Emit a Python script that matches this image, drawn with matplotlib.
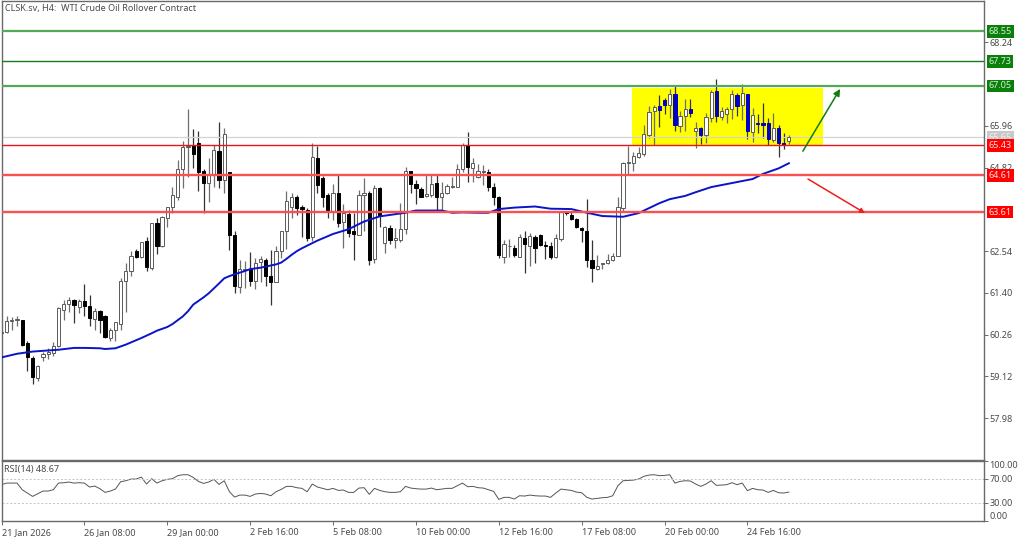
import numpy as np
import matplotlib
matplotlib.use("Agg")
import matplotlib.pyplot as plt

# === data ===
opens = [60.30, 60.33, 60.63, 60.65, 60.65, 60.03, 59.63, 59.09, 59.64, 59.73, 59.76, 59.94, 60.94, 61.10, 61.21, 61.03, 61.18,
         61.04, 60.70, 60.91, 60.78, 60.18, 60.38, 60.56, 61.74, 61.99, 62.54, 62.37, 62.82, 62.08, 63.30, 62.67, 63.44, 63.74,
         64.03, 64.78, 65.38, 65.44, 65.49, 64.74, 64.39, 64.64, 65.27, 64.49, 64.69, 62.99, 61.56, 62.03, 62.06, 61.74, 62.25,
         62.30, 61.85, 61.70, 62.54, 63.08, 63.74, 64.03, 63.74, 63.67, 62.94, 65.09, 64.53, 64.07, 63.65, 64.12, 63.33, 63.56,
         63.09, 62.99, 64.08, 64.12, 62.32, 64.27, 62.76, 63.17, 62.85, 62.85, 63.15, 64.72, 64.38, 64.24, 64.05, 64.08, 64.39,
         64.03, 64.14, 64.30, 64.30, 64.78, 65.44, 64.82, 64.56, 64.69, 64.70, 64.29, 64.03, 62.39, 62.67, 62.63, 62.39, 62.90,
         62.69, 62.93, 62.99, 62.71, 62.69, 62.37, 62.87, 63.60, 63.53, 63.41, 63.17, 63.08, 62.29, 62.06, 62.18, 62.23, 62.29,
         62.42, 63.73, 64.95, 64.96, 65.12, 65.19, 65.71, 66.36, 66.51, 66.67, 66.54, 66.83, 65.97, 66.24, 66.42, 65.83, 65.89,
         65.72, 66.17, 66.90, 66.19, 66.28, 66.42, 66.81, 66.53, 66.83, 65.79, 66.04, 66.04, 66.03, 65.58, 65.89, 65.50, 65.56]
highs = [60.39, 60.76, 60.74, 60.76, 60.67, 60.08, 59.67, 59.44, 59.80, 59.89, 60.05, 61.01, 61.21, 61.29, 61.23, 61.23, 61.64,
         61.35, 60.99, 60.94, 60.80, 60.44, 60.62, 61.80, 62.21, 62.55, 62.59, 62.80, 62.94, 63.32, 63.44, 63.49, 63.76, 64.30,
         65.03, 65.55, 66.42, 65.87, 65.82, 64.78, 65.08, 65.44, 66.06, 65.89, 64.71, 63.08, 62.30, 62.26, 62.53, 62.35, 62.42,
         62.35, 62.58, 62.67, 63.10, 64.17, 64.12, 64.08, 63.80, 63.71, 65.50, 65.41, 64.59, 64.12, 64.37, 64.62, 63.82, 63.67,
         63.59, 64.21, 64.53, 64.17, 64.35, 64.30, 63.23, 63.26, 63.17, 63.85, 64.83, 64.74, 64.49, 64.29, 64.65, 64.65, 64.62,
         64.44, 64.37, 64.56, 64.92, 65.50, 65.80, 65.09, 64.92, 64.89, 64.78, 64.39, 64.05, 62.85, 62.87, 62.71, 63.01, 63.08,
         63.05, 62.99, 63.01, 62.83, 62.80, 63.01, 63.62, 63.62, 63.62, 63.44, 63.21, 63.96, 62.85, 62.44, 62.23, 62.46, 62.49,
         64.03, 64.98, 65.41, 65.26, 65.38, 65.99, 66.50, 66.53, 66.80, 66.71, 66.96, 67.05, 66.38, 66.69, 66.69, 66.08, 65.94,
         66.31, 66.93, 67.24, 66.49, 66.49, 66.94, 66.85, 67.10, 66.83, 66.44, 66.28, 66.58, 66.17, 66.31, 65.99, 65.76, 65.70]
lows = [60.28, 60.30, 60.38, 60.50, 59.96, 59.26, 58.91, 59.00, 59.53, 59.59, 59.67, 59.92, 60.67, 60.89, 60.58, 60.85, 60.76,
        60.51, 60.38, 60.30, 60.17, 60.10, 60.10, 60.39, 60.87, 61.85, 62.35, 62.35, 62.01, 62.03, 62.47, 62.65, 63.21, 63.59,
        63.94, 64.26, 64.56, 64.80, 64.17, 63.58, 63.89, 64.30, 64.26, 64.14, 62.58, 61.39, 61.41, 61.53, 61.58, 61.50, 61.71,
        61.58, 61.08, 61.69, 62.35, 62.59, 63.44, 63.53, 62.94, 62.83, 62.82, 64.12, 63.74, 63.44, 63.38, 63.19, 62.62, 62.94,
        62.29, 62.97, 63.08, 62.17, 62.23, 63.21, 62.49, 62.73, 62.64, 62.80, 63.01, 64.14, 63.83, 64.03, 64.01, 64.03, 63.65,
        63.62, 64.10, 64.26, 64.29, 64.69, 64.44, 64.44, 64.53, 64.35, 64.17, 63.80, 62.35, 62.21, 62.39, 62.39, 62.37, 61.94,
        62.14, 62.23, 62.67, 62.32, 62.33, 62.35, 62.83, 63.53, 63.38, 63.17, 62.78, 62.12, 61.71, 62.03, 62.05, 62.19, 62.26,
        62.41, 63.62, 64.64, 64.74, 65.08, 65.15, 65.64, 65.44, 65.92, 66.29, 66.17, 65.82, 65.79, 65.81, 66.20, 65.37, 65.47,
        65.49, 66.08, 66.08, 66.12, 66.03, 66.14, 66.23, 66.12, 65.60, 65.53, 65.76, 65.62, 65.44, 65.53, 65.11, 65.32, 65.47]
closes = [60.33, 60.64, 60.67, 60.68, 59.99, 59.65, 59.10, 59.41, 59.74, 59.80, 59.96, 60.99, 61.10, 61.22, 61.06, 61.18, 61.05,
          60.73, 60.91, 60.65, 60.19, 60.38, 60.60, 61.74, 62.01, 62.40, 62.39, 62.80, 62.10, 63.30, 62.69, 63.47, 63.75, 64.07,
          64.79, 65.38, 65.41, 65.19, 64.71, 64.41, 64.64, 65.29, 64.49, 65.74, 62.99, 61.58, 62.05, 62.06, 61.74, 62.21, 62.32,
          61.85, 61.70, 62.55, 63.08, 63.91, 64.03, 63.71, 63.69, 62.91, 65.10, 64.35, 64.03, 63.67, 64.12, 63.32, 63.58, 63.05,
          63.02, 64.07, 64.14, 62.30, 64.27, 63.49, 63.19, 62.85, 62.89, 63.15, 64.72, 64.38, 64.26, 64.03, 64.09, 64.37, 64.02,
          64.12, 64.31, 64.32, 64.78, 65.44, 64.83, 64.96, 64.72, 64.72, 64.30, 64.03, 62.44, 62.74, 62.69, 62.44, 62.92, 62.74,
          62.96, 62.63, 62.71, 62.69, 62.39, 62.90, 63.60, 63.57, 63.43, 63.19, 63.11, 62.29, 62.09, 62.14, 62.21, 62.29, 62.41,
          63.75, 64.94, 64.97, 65.14, 65.21, 65.73, 66.35, 66.49, 66.39, 66.53, 66.83, 65.99, 66.24, 66.42, 66.31, 65.89, 65.72,
          66.20, 66.89, 66.22, 66.36, 66.42, 66.83, 66.51, 66.85, 65.81, 66.26, 66.02, 65.99, 65.60, 65.90, 65.49, 65.45, 65.65]

# moving average, read at a sample of bars
ma_bars = [0, 3, 6, 8, 11, 14, 16, 19, 20, 22, 24, 27, 29, 30, 32, 33, 35, 36, 37, 39, 40, 42, 43, 44, 45, 47, 48, 50, 51,
           53, 54, 55, 56, 57, 58, 60, 61, 63, 64, 67, 70, 73, 76, 78, 80, 85, 87, 89, 92, 94, 96, 99, 103, 106, 110, 113,
           116, 120, 123, 127, 129, 132, 134, 137, 141, 145, 147, 150, 152]
ma_vals = [59.64, 59.74, 59.80, 59.82, 59.85, 59.90, 59.90, 59.89, 59.87, 59.89, 59.99, 60.17, 60.30, 60.37, 60.47, 60.55,
           60.76, 60.90, 61.08, 61.28, 61.39, 61.66, 61.80, 61.86, 61.91, 62.00, 62.05, 62.09, 62.12, 62.18, 62.23, 62.33,
           62.44, 62.54, 62.62, 62.76, 62.83, 62.95, 63.01, 63.14, 63.35, 63.49, 63.55, 63.59, 63.65, 63.65, 63.59, 63.60,
           63.59, 63.59, 63.69, 63.73, 63.76, 63.70, 63.69, 63.59, 63.50, 63.48, 63.58, 63.85, 63.96, 64.05, 64.15, 64.29,
           64.40, 64.51, 64.65, 64.80, 64.94]

rsi_vals = [60.5, 63.2, 63.2, 63.2, 52.1, 46.6, 41.0, 45.5, 49.9, 49.9, 52.1, 63.2, 63.8, 64.9, 63.2, 63.8, 63.2, 56.6, 58.2,
            53.8, 47.7, 49.9, 53.2, 65.5, 67.1, 69.9, 69.9, 73.2, 61.6, 70.5, 63.2, 67.1, 69.4, 70.5, 75.5, 77.1, 77.1, 72.7,
            66.0, 62.7, 64.9, 69.4, 61.0, 67.1, 48.8, 39.9, 43.2, 43.2, 41.0, 44.9, 46.0, 44.9, 42.1, 48.8, 52.7, 57.7, 57.7,
            55.5, 54.4, 48.8, 61.6, 56.6, 54.4, 52.1, 54.4, 51.0, 51.6, 47.7, 47.7, 54.9, 55.5, 44.4, 54.4, 51.0, 48.8, 47.7,
            47.7, 48.8, 57.7, 54.9, 53.8, 53.2, 53.2, 54.9, 52.1, 53.2, 54.4, 54.4, 58.8, 63.2, 57.1, 57.7, 55.5, 54.9, 52.1,
            49.4, 36.0, 39.4, 39.4, 36.6, 42.1, 41.6, 43.2, 42.1, 41.6, 41.6, 39.4, 46.6, 53.2, 52.1, 51.0, 48.2, 47.1, 39.4,
            36.6, 37.7, 38.8, 39.4, 42.1, 58.8, 67.1, 67.7, 68.2, 69.9, 74.4, 76.6, 77.1, 75.5, 76.0, 77.1, 63.2, 66.0, 67.1,
            66.6, 61.6, 57.7, 61.6, 67.1, 59.4, 59.9, 60.5, 63.8, 60.5, 63.2, 50.5, 54.4, 52.1, 51.6, 47.7, 51.0, 47.1, 46.6,
            48.2]

price_ticks = [68.24, 65.96, 64.82, 62.54, 61.40, 60.26, 59.12, 57.98]
rsi_ticks = [100, 70, 30, 0]
time_tick_bars = [0, 16, 32, 48, 64, 80, 96, 112, 128, 144]
time_labels = ["21 Jan 2026", "26 Jan 08:00", "29 Jan 00:00", "2 Feb 16:00", "5 Feb 08:00",
               "10 Feb 00:00", "12 Feb 16:00", "17 Feb 08:00", "20 Feb 00:00", "24 Feb 16:00"]
green_levels = [68.55, 67.73, 67.05]
red_levels = [65.43, 64.61, 63.61]
last_price = 65.65
rsi_label = "RSI(14) 48.67"

# === setup ===
W, H = 1024, 539
TXT = "#4a4a4a"
BORDER = "#6a6a6a"
plt.rcParams["font.family"] = "Noto Sans"
plt.rcParams["font.size"] = 6.5

fig = plt.figure(figsize=(W / 100, H / 100), dpi=100)
ax = fig.add_axes([1.5 / W, 1 - 460 / H, 982.5 / W, 459 / H])
ax_rsi = fig.add_axes([1.5 / W, 1 - 521 / H, 982.5 / W, 60 / H], sharex=ax)

bar_px = 5.18
xmax = 982.5 / bar_px
ax.set_xlim(0, xmax)
ax.set_ylim(56.84, 69.37)
ax_rsi.set_ylim(0, 100)

# === candles ===
x = np.arange(len(opens))
o, h, l, c = map(np.array, (opens, highs, lows, closes))
bull = c >= o
# the yellow box turns the black bodies blue on the right side of the chart
bear_col = np.where(x >= 127, "#0000c8", "#000000")
ax.axvspan(121.7, 158.6, ymin=(65.40 - 56.84) / 12.53, ymax=(67.0 - 56.84) / 12.53,
           color="#ffff00", lw=0, zorder=1)
ax.vlines(x[bull], l[bull], h[bull], color="#6e6e6e", lw=0.9, zorder=2)
ax.vlines(x[~bull], l[~bull], h[~bull], color="#333333", lw=0.9, zorder=2)
ax.bar(x[bull], (c - o)[bull], bottom=o[bull], width=0.62, facecolor="white",
       edgecolor="#5a5a5a", lw=0.7, zorder=3)
ax.bar(x[~bull], (c - o)[~bull], bottom=o[~bull], width=0.62, color=bear_col[~bull],
       edgecolor=bear_col[~bull], lw=0.7, zorder=3)

# === moving average and levels ===
ax.plot(ma_bars, ma_vals, color="#0a14c8", lw=1.4, zorder=4)
ax.axhline(last_price, color="#d4d4d4", lw=0.9, zorder=2)
ax.axhline(green_levels[0], color="#55a855", lw=1.6, zorder=5)
ax.axhline(green_levels[1], color="#1a7a1a", lw=1.0, zorder=5)
ax.axhline(green_levels[2], color="#55a855", lw=1.6, zorder=5)
ax.axhline(red_levels[0], color="#e81420", lw=1.0, zorder=5)
ax.axhline(red_levels[1], color="#fa5050", lw=1.7, zorder=5)
ax.axhline(red_levels[2], color="#fa5050", lw=1.7, zorder=5)

# arrows
ax.annotate("", xy=(161.9, 66.97), xytext=(154.7, 65.27), zorder=6,
            arrowprops=dict(arrowstyle="-|>", color="#0f7d0f", lw=1.1, mutation_scale=10, shrinkA=0, shrinkB=0))
ax.annotate("", xy=(166.7, 63.58), xytext=(155.7, 64.51), zorder=6,
            arrowprops=dict(arrowstyle="-|>", color="#f01e1e", lw=1.1, mutation_scale=7, shrinkA=0, shrinkB=0))

# === price axis ===
ax.yaxis.tick_right()
ax.set_yticks(price_ticks)
ax.set_yticklabels([f"{p:.2f}" for p in price_ticks], color=TXT)
ax.tick_params(axis="y", length=3, width=0.7, color=BORDER, pad=1)
ax.tick_params(axis="x", length=0, labelbottom=False)

trans = ax.get_yaxis_transform()
def price_tag(value, bg, fg):
    ax.text(1 + 4.5 / 982.5, value, f"{value:.2f}", transform=trans, color=fg, va="center", ha="left", zorder=8,
            bbox=dict(boxstyle="square,pad=0.22", facecolor=bg, edgecolor="none"), clip_on=False)

price_tag(last_price, "#c8c8c8", "#f0f0f0")
for v in green_levels:
    price_tag(v, "#0a800a", "#d8f0d8")
for v in red_levels:
    price_tag(v, "#ff0000", "#ffe0e0")

ax.text(3.5 / 982.5, 0.9935, "CLSK.sv, H4:  WTI Crude Oil Rollover Contract", transform=ax.transAxes,
        color=TXT, va="top", ha="left")

# === RSI panel ===
ax_rsi.plot(x, rsi_vals, color="#555555", lw=0.7)
for lvl in (70, 30):
    ax_rsi.axhline(lvl, color="#c4c4c4", lw=0.7, ls=(0, (2, 2)))
ax_rsi.yaxis.tick_right()
ax_rsi.set_yticks(rsi_ticks)
ax_rsi.set_yticklabels([f"{v:.2f}" for v in rsi_ticks], color=TXT)
ax_rsi.tick_params(axis="y", length=3, width=0.7, color=BORDER, pad=1)
# end labels sit inside the panel height
rsi_labels = ax_rsi.get_yticklabels()
rsi_labels[0].set_va("top")
rsi_labels[-1].set_va("bottom")
ax_rsi.set_xticks(time_tick_bars)
ax_rsi.set_xticklabels(time_labels, color=TXT, ha="left")
ax_rsi.tick_params(axis="x", length=3, width=0.7, color=BORDER, pad=2)
ax_rsi.text(2 / 982.5, 0.86, rsi_label, transform=ax_rsi.transAxes, color=TXT, va="center", ha="left")

for a in (ax, ax_rsi):
    for s in a.spines.values():
        s.set_color(BORDER)
        s.set_linewidth(1.0)

fig.savefig("out.png", dpi=100, facecolor="white")
